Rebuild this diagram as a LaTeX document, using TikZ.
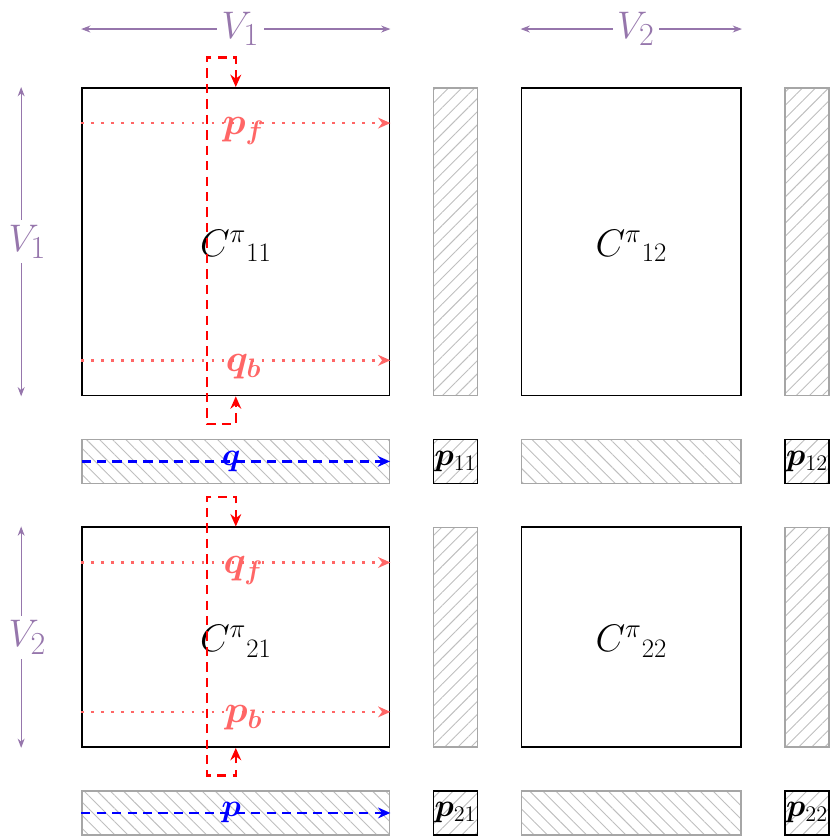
\documentclass[tikz,border=0pt]{standalone}
\usepackage{bm}
\usetikzlibrary{arrows.meta,patterns.meta,positioning}

\definecolor{vcol}{RGB}{150,118,172}
\definecolor{pcol}{RGB}{255,102,102}

\tikzset{
  block/.style={draw, line width=1.1pt, inner sep=0pt},
  vstrip/.style={draw=gray!70, line width=1pt, inner sep=0pt,
    pattern={Lines[angle=45,distance=6pt,line width=0.6pt]}, pattern color=gray!50},
  hstrip/.style={draw=gray!70, line width=1pt, inner sep=0pt,
    pattern={Lines[angle=-45,distance=6pt,line width=0.6pt]}, pattern color=gray!50},
  pbox/.style={draw, line width=1pt, inner sep=0pt, minimum size=1cm,
    pattern={Lines[angle=45,distance=6pt,line width=0.6pt]}, pattern color=gray!50,
    font=\fontsize{22}{24}\selectfont},
  varrow/.style={vcol, line width=0.8pt, {Stealth[length=6pt,width=4.5pt]}-{Stealth[length=6pt,width=4.5pt]}},
  vlbl/.style={fill=white, inner sep=3pt, text=vcol, font=\fontsize{29}{32}\selectfont},
  clbl/.style={anchor=base, font=\fontsize{26}{30}\selectfont},
  pdot/.style={pcol, line width=1.7pt, dash pattern=on 1.7pt off 4.8pt, -{Stealth[length=8pt,width=7pt]}},
  plbl/.style={text=pcol, anchor=mid, xshift=5pt, yshift=-5pt, font=\fontsize{27}{30}\selectfont},
  rpath/.style={red, line width=1.5pt, dash pattern=on 6pt off 4pt, {Stealth[length=8pt,width=7pt]}-{Stealth[length=8pt,width=7pt]}},
  bdash/.style={blue, line width=1.5pt, dash pattern=on 6pt off 4pt, -{Stealth[length=8pt,width=7pt]}},
  blbl/.style={text=blue, xshift=-3pt, font=\fontsize{22}{24}\selectfont}
}

\begin{document}
\begin{tikzpicture}[x=1cm,y=-1cm]
    \useasboundingbox (-1.866,-2.0) rectangle (17.02,17.07);

    % blocks
    \node[block, minimum width=7cm, minimum height=7cm] (C11) at (3.5,3.5) {};
    \node[block, minimum width=5cm, minimum height=7cm] (C12) at (12.5,3.5) {};
    \node[block, minimum width=7cm, minimum height=5cm] (C21) at (3.5,12.5) {};
    \node[block, minimum width=5cm, minimum height=5cm] (C22) at (12.5,12.5) {};

    % strips
    \node[vstrip, minimum width=1cm, minimum height=7cm] (S11) at (8.5,3.5) {};
    \node[vstrip, minimum width=1cm, minimum height=7cm] (S12) at (16.5,3.5) {};
    \node[vstrip, minimum width=1cm, minimum height=5cm] (S21) at (8.5,12.5) {};
    \node[vstrip, minimum width=1cm, minimum height=5cm] (S22) at (16.5,12.5) {};
    \node[hstrip, minimum width=7cm, minimum height=1cm] (H11) at (3.5,8.5) {};
    \node[hstrip, minimum width=5cm, minimum height=1cm] (H12) at (12.5,8.5) {};
    \node[hstrip, minimum width=7cm, minimum height=1cm] (H21) at (3.5,16.5) {};
    \node[hstrip, minimum width=5cm, minimum height=1cm] (H22) at (12.5,16.5) {};

    \node[pbox] (P11) at (8.5,8.5) {$\bm{p}_{11}$};
    \node[pbox] (P12) at (16.5,8.5) {$\bm{p}_{12}$};
    \node[pbox] (P21) at (8.5,16.5) {$\bm{p}_{21}$};
    \node[pbox] (P22) at (16.5,16.5) {$\bm{p}_{22}$};

    % block labels
    \node[clbl] (L11) at (3.5,3.83) {$C^{\pi}{}_{11}$};
    \node[clbl] (L12) at (12.5,3.83) {$C^{\pi}{}_{12}$};
    \node[clbl] (L21) at (3.5,12.83) {$C^{\pi}{}_{21}$};
    \node[clbl] (L22) at (12.5,12.83) {$C^{\pi}{}_{22}$};

    % sizes
    \draw[varrow] ([yshift=1.32cm]C11.north west) -- ([yshift=1.32cm]C11.north east)
        node[midway,vlbl,xshift=3pt] {$V_1$};
    \draw[varrow] ([yshift=1.32cm]C12.north west) -- ([yshift=1.32cm]C12.north east)
        node[midway,vlbl,xshift=3pt] {$V_2$};
    \draw[varrow] ([xshift=-1.365cm]C11.north west) -- ([xshift=-1.365cm]C11.south west)
        node[midway,vlbl,xshift=4pt] {$V_1$};
    \draw[varrow] ([xshift=-1.365cm]C21.north west) -- ([xshift=-1.365cm]C21.south west)
        node[midway,vlbl,xshift=4pt] {$V_2$};

    % vectors in the blocks
    \draw[pdot] ([yshift=-0.82cm]C11.north west) -- ([yshift=-0.82cm]C11.north east)
        node[midway,plbl] {$\bm{p_f}$};
    \draw[pdot] ([yshift=0.82cm]C11.south west) -- ([yshift=0.82cm]C11.south east)
        node[midway,plbl] {$\bm{q_b}$};
    \draw[pdot] ([yshift=-0.82cm]C21.north west) -- ([yshift=-0.82cm]C21.north east)
        node[midway,plbl] {$\bm{q_f}$};
    \draw[pdot] ([yshift=0.82cm]C21.south west) -- ([yshift=0.82cm]C21.south east)
        node[midway,plbl] {$\bm{p_b}$};

    \draw[bdash] (H11.west) -- (H11.east) node[midway,blbl] {$\bm{q}$};
    \draw[bdash] (H21.west) -- (H21.east) node[midway,blbl] {$\bm{p}$};

    % loops round the blocks
    \draw[rpath] (C11.north) -- ++(0,-0.67) -- ++(-0.66,0) -- ++(0,8.34)
        -- ++(0.66,0) -- (C11.south);
    \draw[rpath] (C21.north) -- ++(0,-0.67) -- ++(-0.66,0) -- ++(0,6.34)
        -- ++(0.66,0) -- (C21.south);
\end{tikzpicture}
\end{document}
